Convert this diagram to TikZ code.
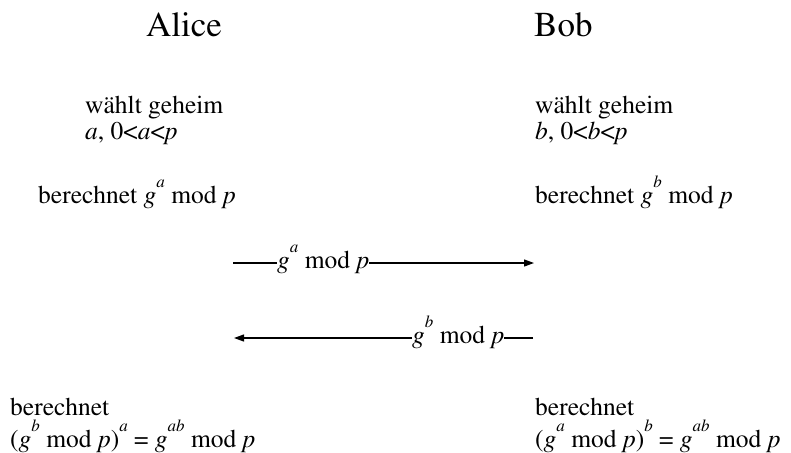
\documentclass[tikz,border=0pt]{standalone}
\usepackage[T1]{fontenc}
\usepackage{mathptmx}
\usetikzlibrary{arrows.meta}
\newcommand{\iv}[1]{\textit{#1}}
\newcommand{\sps}[1]{\smash{\raisebox{0.6em}{\fontsize{17}{17}\selectfont\textit{#1}}}}
\begin{document}
\begin{tikzpicture}[x=1pt,y=-1pt,
  txt/.style={anchor=base west,inner sep=0pt,font=\fontsize{25.5}{30}\selectfont},
  two/.style={anchor=base west,inner sep=0pt,align=left,font=\fontsize{25.5}{32}\selectfont},
  big/.style={anchor=base west,inner sep=0pt,font=\fontsize{35}{40}\selectfont},
  msg/.style={line width=1.2pt},
  tip/.style={-{Triangle[length=10pt,width=7pt]}}]
\useasboundingbox (0,0) rectangle (791,452);
% headers
\node[big] (alice) at (146,37) {Alice};
\node[big] (bob) at (534,37) {Bob};
% choose secret (base anchor = baseline of last line)
\node[two] (as) at (85,139) {w\"ahlt geheim\\[-6pt]\iv{a}, 0\textless\iv{a}\textless\iv{p}};
\node[two] (bs) at (535,139) {w\"ahlt geheim\\[-6pt]\iv{b}, 0\textless\iv{b}\textless\iv{p}};
% compute public
\node[txt] (ac) at (38,203) {berechnet \iv{g}\sps{a} mod \iv{p}};
\node[txt] (bc) at (535,203) {berechnet \iv{g}\sps{b} mod \iv{p}};
% messages
\coordinate (m1s) at (233,263);
\coordinate (m1e) at (534,263);
\node[txt] (l1) at (277,268) {\iv{g}\sps{a} mod \iv{p}};
\draw[msg] (m1s) -- (m1s -| l1.west);
\draw[msg,tip] (m1s -| l1.east) -- (m1e);
\coordinate (m2s) at (533,338);
\coordinate (m2e) at (234,338);
\node[txt] (l2) at (412,343) {\iv{g}\sps{b} mod \iv{p}};
\draw[msg] (m2s) -- (m2s -| l2.east);
\draw[msg,tip] (m2s -| l2.west) -- (m2e);
% final
\node[two] (af) at (10,447) {berechnet\\(\iv{g}\sps{b} mod \iv{p})\sps{a} = \iv{g}\sps{ab} mod \iv{p}};
\node[two] (bf) at (535,447) {berechnet\\(\iv{g}\sps{a} mod \iv{p})\sps{b} = \iv{g}\sps{ab} mod \iv{p}};
\end{tikzpicture}
\end{document}
